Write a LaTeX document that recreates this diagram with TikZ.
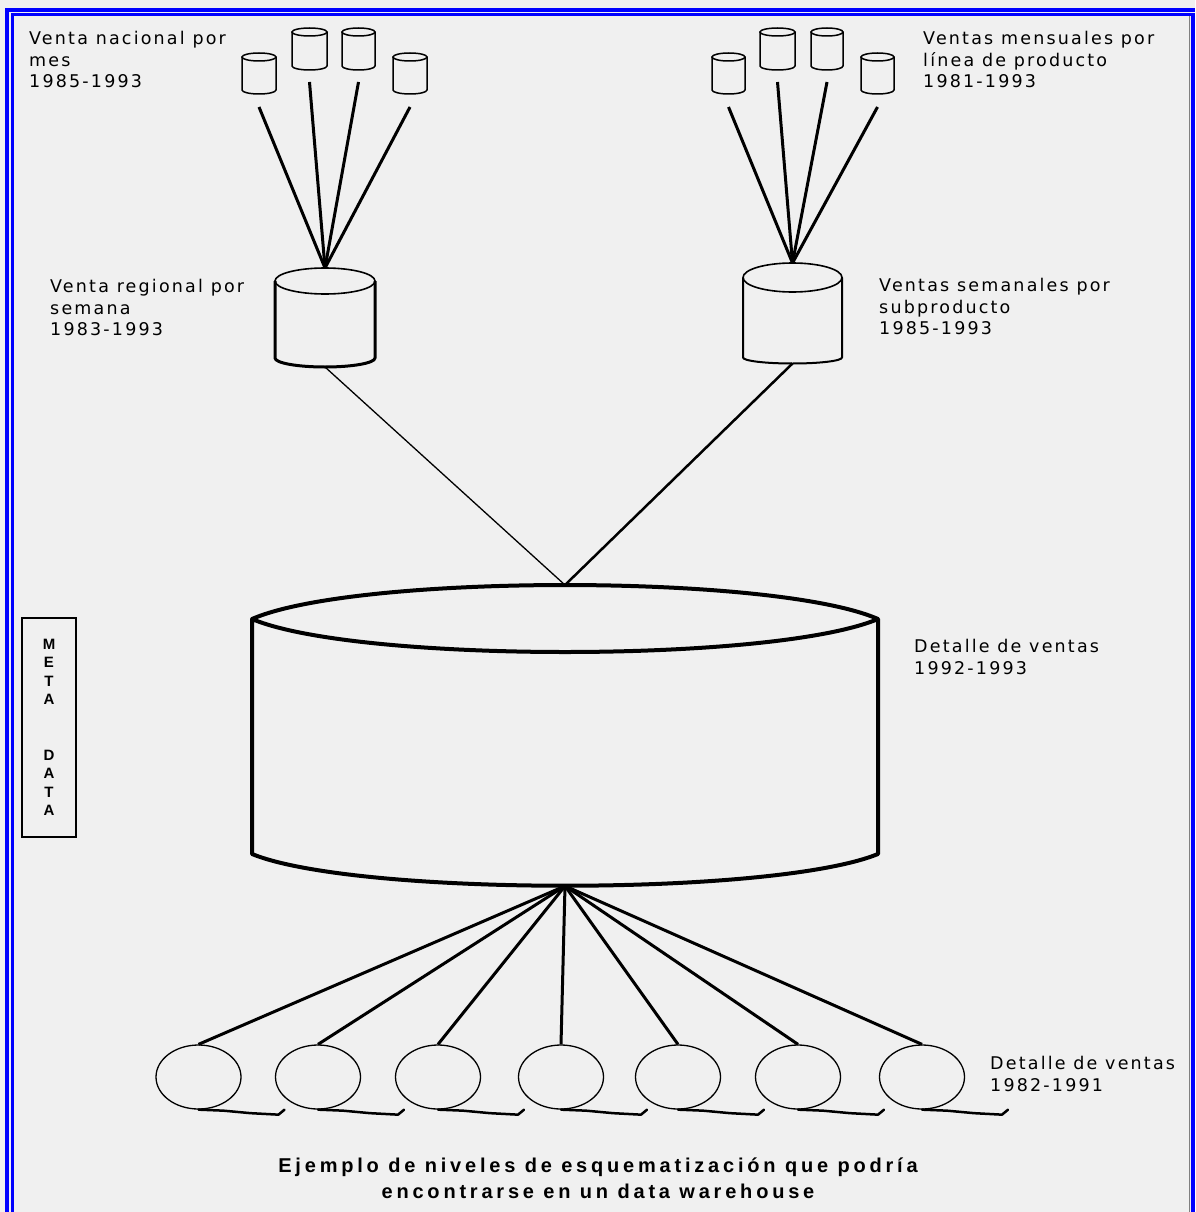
\documentclass[tikz,border=0pt]{standalone}
\usepackage{fontspec}
\setmainfont{Liberation Sans}
\newfontfamily\lblfont[LetterSpace=12.5]{DejaVu Sans}
\newfontfamily\capfont[LetterSpace=19]{Liberation Sans}
\usetikzlibrary{shapes.geometric}
\definecolor{bg}{RGB}{240,240,240}
\definecolor{framecol}{RGB}{0,0,255}
\tikzset{
  pics/cyl/.style n args={7}{code={
    \draw[line width=#5] (0,0) ellipse [x radius=#1, y radius=#2];
    \draw[line width=#6, line join=round] (-#1,0) -- (-#1,#3)
        arc[start angle=180, end angle=0, x radius=#1, y radius=#4] -- (#1,0);
    \coordinate (-top) at (0,-#2);
    \coordinate (-bot) at (0,#3+#4);
    \coordinate (-out) at (0,#3+#4+#7);
  }},
  fan/.style={line width=3pt},
  lbl/.style={anchor=north west, inner sep=0pt, align=left,
    font=\lblfont\fontsize{17.5}{21.7}\selectfont},
  dcirc/.style={ellipse, draw, line width=1.3pt, minimum width=85, minimum height=64, inner sep=0pt},
  squig/.style={line width=2.5pt, line join=round, line cap=round},
}
\begin{document}
\begin{tikzpicture}[x=1pt,y=-1pt]
\fill[bg] (0,0) rectangle (1195,1212);
\useasboundingbox (0,0) rectangle (1195,1212);
% frame
\fill[framecol] (5,8) rectangle (1195,12);
\fill[framecol] (5,8) rectangle (9,1212);
\fill[framecol] (11,13.5) rectangle (1195,16);
\fill[framecol] (11,13.5) rectangle (13.5,1212);
\fill[framecol] (1191,13.5) rectangle (1195,1212);
\draw[gray, line width=1pt] (1189.5,16) -- (1189.5,1212);

% small cylinders, left group
\pic (la) at (259,57)    {cyl={17}{4}{33}{4}{1.5pt}{1.5pt}{13}};
\pic (lb) at (309.5,32)  {cyl={17.5}{4}{34}{4}{1.5pt}{1.5pt}{12}};
\pic (lc) at (358.5,32)  {cyl={16.5}{4}{34}{4}{1.5pt}{1.5pt}{12}};
\pic (ld) at (410,57)    {cyl={17}{4}{33}{4}{1.5pt}{1.5pt}{13}};
% small cylinders, right group
\pic (ra) at (728.5,57)  {cyl={16.5}{4}{33}{4}{1.5pt}{1.5pt}{13}};
\pic (rb) at (777.5,32)  {cyl={17.5}{4}{34}{4}{1.5pt}{1.5pt}{12}};
\pic (rc) at (827,32)    {cyl={16}{4}{34}{4}{1.5pt}{1.5pt}{12}};
\pic (rd) at (877.5,57)  {cyl={16.5}{4}{33}{4}{1.5pt}{1.5pt}{13}};

% regional cylinders
\pic (reg1) at (325,281)   {cyl={50}{13}{77}{9}{1.6pt}{3pt}{1}};
\pic (reg2) at (792.5,277.5) {cyl={49.5}{14.5}{80}{6}{1.6pt}{2pt}{1}};

\foreach \c in {la,lb,lc,ld} \draw[fan] (\c-out) -- (reg1-top);
\foreach \c in {ra,rb,rc,rd} \draw[fan] (\c-out) -- (reg2-top);

% big cylinder
\coordinate (big-top) at (565,585);
\coordinate (big-bot) at (565,886);
\draw[line width=4pt, line join=round]
  (252,619) .. controls (356,573.7) and (774,573.7) .. (878,619)
  .. controls (774,663) and (356,663) .. (252,619)
  -- (252,854) .. controls (356,896.3) and (774,896.3) .. (878,854) -- (878,619);

\draw[line width=1.3pt] (reg1-bot) -- (big-top);
\draw[line width=2.5pt] (reg2-bot) -- (big-top);

% detail circles
\foreach \i/\x in {1/198.5,2/318,3/438,4/561,5/678,6/798,7/922}{
  \node[dcirc] (d\i) at (\x,1077) {};
  \draw[fan] (big-bot) -- (d\i.north);
  \draw[squig] (d\i.south) -- ++(25,1) -- ++(27,2.5) -- ++(28,1.5) -- ++(6,-5);
}

% meta data
\node[draw, line width=1.2pt, minimum width=54, minimum height=219, inner sep=0pt, align=center,
  font=\bfseries\fontsize{15}{18.5}\selectfont] (meta) at (49,727.5)
  {M\\E\\T\\A\\[37pt]D\\A\\T\\A};

% labels
\node[lbl] (t1) at (29,31) {Venta nacional por\\mes\\1985-1993};
\node[lbl] (t2) at (50,279) {Venta regional por\\semana\\1983-1993};
\node[lbl] (t3) at (923,31) {Ventas mensuales por\\línea de producto\\1981-1993};
\node[lbl] (t4) at (879,278) {Ventas semanales por\\subproducto\\1985-1993};
\node[lbl] (t5) at (914,639) {Detalle de ventas\\1992-1993};
\node[lbl] (t6) at (990,1056) {Detalle de ventas\\1982-1991};

\node[align=center, inner sep=0pt, font=\capfont\bfseries\fontsize{20}{25.5}\selectfont] (cap) at (598,1178)
  {Ejemplo de niveles de esquematización que podría\\encontrarse en un data warehouse};
\end{tikzpicture}
\end{document}
